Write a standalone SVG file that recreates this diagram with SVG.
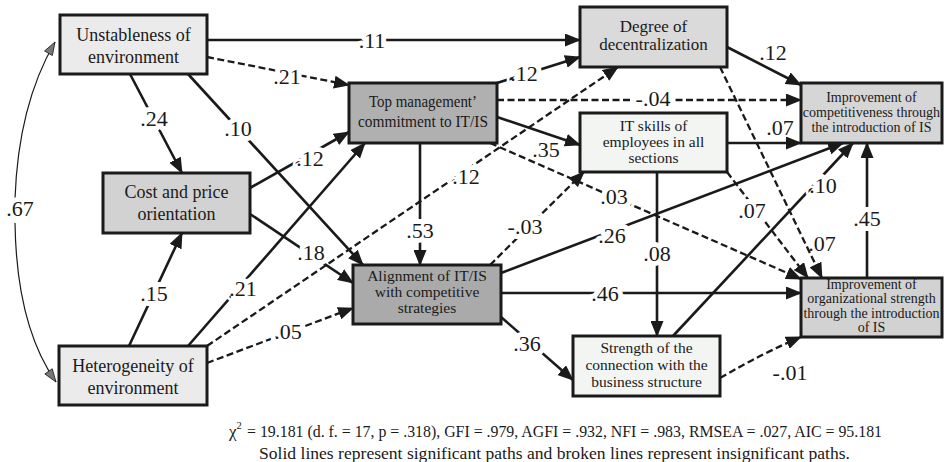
<svg xmlns="http://www.w3.org/2000/svg" width="944" height="462" viewBox="0 0 944 462">
<style>
text{font-family:"Liberation Serif","Times New Roman",serif;fill:#1a1a1a}
.box{stroke:#1a1a1a;stroke-width:3}
.s{stroke:#1a1a1a;stroke-width:2.6;fill:none;marker-end:url(#ah)}
.d{stroke:#1a1a1a;stroke-width:2.3;fill:none;stroke-dasharray:7 3.5;marker-end:url(#ah)}
.c{stroke:#1a1a1a;stroke-width:1.2;fill:none;marker-end:url(#gh)}
.lbl{font-size:22px;text-anchor:middle;stroke:#fff;stroke-width:10px;paint-order:stroke;stroke-linejoin:round}
.lb2{font-size:22px;text-anchor:middle}
.t18{font-size:18px;text-anchor:middle}
.t17{font-size:17px;text-anchor:middle}
.t16{font-size:15.5px;text-anchor:middle}
.t15{font-size:15.5px;text-anchor:middle}
.t14{font-size:14px;text-anchor:middle}
</style>
<defs>
<marker id="ah" markerUnits="userSpaceOnUse" markerWidth="17" markerHeight="13" refX="15" refY="6.5" orient="auto"><path d="M0,0 L16,6.5 L0,13 z" fill="#1a1a1a"/></marker>
<marker id="gh" markerUnits="userSpaceOnUse" markerWidth="16" markerHeight="12" refX="14" refY="5.5" orient="auto"><path d="M1,1 L14,5.5 L1,10 z" fill="#777" stroke="#222" stroke-width="0.8"/></marker>
</defs>
<rect width="944" height="462" fill="#fff"/>
<g id="connectors">
<path class="c" d="M15,199 C17,140 30,85 55,42"/>
<path class="c" d="M15,223 C16,290 30,345 56,382"/>
<path class="s" d="M207,40 L580,40"/>
<path class="d" d="M207,57 L349,85"/>
<path class="s" d="M130,74 L182,173"/>
<path class="s" d="M188,74 L363,265"/>
<path class="s" d="M250,188 L349,132"/>
<path class="s" d="M250,214 L353,283"/>
<path class="s" d="M129,346 L182,233"/>
<path class="s" d="M188,346 L365,143"/>
<path class="d" d="M207,346 L618,67"/>
<path class="d" d="M207,363 L353,308"/>
<path class="s" d="M420,143 L420,265"/>
<path class="s" d="M497,83 L580,57"/>
<path class="d" d="M497,100 L801,100"/>
<path class="s" d="M497,117 L580,145"/>
<path class="d" d="M490,143 L801,279"/>
<path class="d" d="M490,265 L584,172"/>
<path class="s" d="M501,273 L843,143"/>
<path class="s" d="M501,293 L801,293"/>
<path class="s" d="M501,317 L573,380"/>
<path class="s" d="M727,47 L801,85"/>
<path class="d" d="M720,67 L822,278"/>
<path class="s" d="M727,143 L801,143"/>
<path class="d" d="M727,172 L808,278"/>
<path class="s" d="M657,172 L657,336"/>
<path class="s" d="M673,336 L853,143"/>
<path class="d" d="M720,378 Q765,352 801,337"/>
<path class="s" d="M867,278 L867,143"/>
</g>
<g id="n1"><rect class="box" x="60" y="15" width="147" height="59" fill="#ebebeb"/><text class="t18" x="133.5" y="41">Unstableness of</text><text class="t18" x="133.5" y="63">environment</text></g>
<g id="n2"><rect class="box" x="103" y="173" width="147" height="60" fill="#d2d2d2"/><text class="t18" x="176.5" y="198">Cost and price</text><text class="t18" x="176.5" y="220">orientation</text></g>
<g id="n3"><rect class="box" x="59" y="346" width="148" height="59" fill="#ebebeb"/><text class="t18" x="133" y="372">Heterogeneity of</text><text class="t18" x="133" y="394">environment</text></g>
<g id="n4"><rect class="box" x="349" y="83" width="148" height="60" fill="#b0b0b0"/><text class="t17" x="423" y="107" textLength="108" lengthAdjust="spacingAndGlyphs">Top management’</text><text class="t17" x="423" y="127" textLength="130" lengthAdjust="spacingAndGlyphs">commitment to IT/IS</text></g>
<g id="n5"><rect class="box" x="353" y="265" width="148" height="59" fill="#aaaaaa"/><text class="t16" x="427" y="281">Alignment of IT/IS</text><text class="t16" x="427" y="297">with competitive</text><text class="t16" x="427" y="313">strategies</text></g>
<g id="n6"><rect class="box" x="580" y="7" width="147" height="60" fill="#dadada"/><text class="t17" x="653.5" y="32">Degree of</text><text class="t17" x="653.5" y="50">decentralization</text></g>
<g id="n7"><rect class="box" x="580" y="113" width="147" height="59" fill="#f3f5f3"/><text class="t15" x="653.5" y="131">IT skills of</text><text class="t15" x="653.5" y="147">employees in all</text><text class="t15" x="653.5" y="163">sections</text></g>
<g id="n8"><rect class="box" x="801" y="83" width="141" height="60" fill="#d6d6d6"/><text class="t14" x="871.5" y="102">Improvement of</text><text class="t14" x="871.5" y="117">competitiveness through</text><text class="t14" x="871.5" y="132">the introduction of IS</text></g>
<g id="n9"><rect class="box" x="801" y="278" width="141" height="59" fill="#d2d2d2"/><text class="t14" x="871.5" y="289">Improvement of</text><text class="t14" x="871.5" y="303">organizational strength</text><text class="t14" x="871.5" y="318">through the introduction</text><text class="t14" x="871.5" y="332">of IS</text></g>
<g id="n10"><rect class="box" x="573" y="336" width="147" height="60" fill="#f3f5f3"/><text class="t15" x="646.5" y="353">Strength of the</text><text class="t15" x="646.5" y="370">connection with the</text><text class="t15" x="646.5" y="387">business structure</text></g>
<g id="labels">
<text class="lbl" x="20" y="216">.67</text>
<text class="lbl" x="372" y="48">.11</text>
<text class="lbl" x="287" y="84">.21</text>
<text class="lbl" x="154" y="126">.24</text>
<text class="lbl" x="238" y="136">.10</text>
<text class="lbl" x="310" y="166">.12</text>
<text class="lbl" x="311" y="260">.18</text>
<text class="lbl" x="154" y="301">.15</text>
<text class="lbl" x="243" y="296">.21</text>
<text class="lbl" x="466" y="184">.12</text>
<text class="lbl" x="288" y="339">.05</text>
<text class="lbl" x="420" y="238">.53</text>
<text class="lbl" x="524" y="81">.12</text>
<text class="lbl" x="653" y="106">-.04</text>
<text class="lb2" x="546" y="157">.35</text>
<text class="lbl" x="614" y="204">.03</text>
<text class="lbl" x="525" y="234">-.03</text>
<text class="lbl" x="612" y="243">.26</text>
<text class="lbl" x="605" y="301">.46</text>
<text class="lbl" x="527" y="351">.36</text>
<text class="lb2" x="773" y="60">.12</text>
<text class="lb2" x="822" y="251">.07</text>
<text class="lb2" x="780" y="135">.07</text>
<text class="lbl" x="752" y="218">.07</text>
<text class="lbl" x="657" y="261">.08</text>
<text class="lbl" x="823" y="193">.10</text>
<text class="lb2" x="790" y="380">-.01</text>
<text class="lbl" x="867" y="226">.45</text>
</g>
<g id="footer">
<text x="229" y="437" font-size="17">χ<tspan font-size="10.5" dy="-8">2</tspan></text>
<text x="247" y="437" font-size="16" textLength="635" lengthAdjust="spacingAndGlyphs">= 19.181 (d. f. = 17, p = .318), GFI = .979, AGFI = .932, NFI = .983, RMSEA = .027, AIC = 95.181</text>
<text x="259" y="459" font-size="17.5" textLength="591" lengthAdjust="spacingAndGlyphs">Solid lines represent significant paths and broken lines represent insignificant paths.</text>
</g>
</svg>
